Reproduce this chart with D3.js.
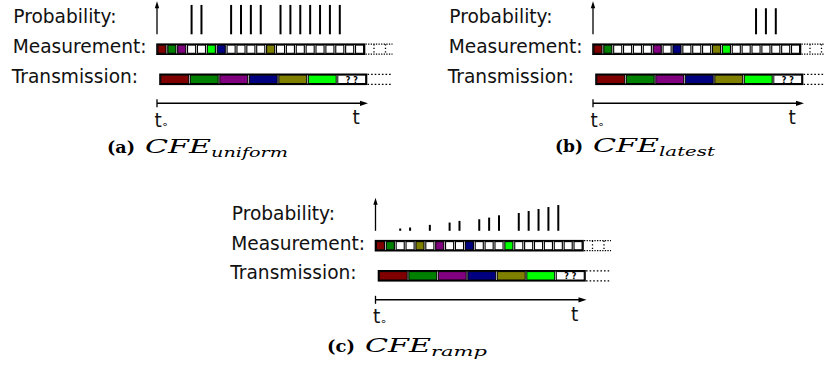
<!DOCTYPE html>
<html><head><meta charset="utf-8">
<script src="https://cdn.jsdelivr.net/npm/d3@7"></script>
<style>
body{margin:0;background:#fff;}
svg{display:block;}
</style></head>
<body>
<svg id="chart" width="824" height="370"></svg>
<script>
// ---------- data ----------
const panelIds = ["a", "b", "c"];
const captionSubs = ["uniform", "latest", "ramp"];
const rowLabels = ["Probability:", "Measurement:", "Transmission:"];
const cellCount = 21;

const measCellsA = [0, 1, 2, 5, 6, 11];
const measColorsA = ["#800000", "#008000", "#800080", "#00ff00", "#000080", "#808000"];
const measCellsB = [0, 1, 6, 8, 12, 13];
const measColorsB = ["#800000", "#008000", "#800080", "#000080", "#808000", "#00ff00"];
const measCellsC = [0, 1, 4, 6, 9, 13];
const measColorsC = ["#800000", "#008000", "#808000", "#800080", "#000080", "#00ff00"];

const probCellsA = [3, 4, 7, 8, 9, 10, 12, 13, 14, 15, 16, 17, 18];
const probValuesA = [0.89, 0.89, 0.89, 0.89, 0.89, 0.89, 0.89, 0.89, 0.89, 0.89, 0.89, 0.89, 0.89];
const probCellsB = [16, 17, 18];
const probValuesB = [0.79, 0.79, 0.79];
const probCellsC = [2, 3, 5, 7, 8, 10, 11, 12, 14, 15, 16, 17, 18];
const probValuesC = [0.07, 0.10, 0.18, 0.25, 0.30, 0.35, 0.40, 0.47, 0.54, 0.60, 0.66, 0.72, 0.78];

const transColors = ["#800000", "#008000", "#800080", "#000080", "#808000", "#00ff00", "#ffffff"];
const transLabels = ["", "", "", "", "", "", "? ?"];

const measCells = [measCellsA, measCellsB, measCellsC];
const measColors = [measColorsA, measColorsB, measColorsC];
const probCells = [probCellsA, probCellsB, probCellsC];
const probValues = [probValuesA, probValuesB, probValuesC];

// ---------- layout ----------
const svg = d3.select("#chart");
const offsets = [[0, 0], [436, 0], [218.5, 196.5]];
const captionX0 = [107, 119, 108.5];
const captionY = [153, 152, 155];
const subLen = [77, 56, 56];

const xCell = d3.scaleLinear().domain([0, cellCount]).range([157, 364.5]);
const xTrans = d3.scaleLinear().domain([0, transColors.length]).range([160, 366.5]);
const yProb = d3.scaleLinear().domain([0, 1]).range([34.3, 1.3]);

const measY = 44.2, measH = 10;
const transY = 74.3, transH = 10;
const timeY = 103.3;

const labelFont = "'DejaVu Sans', sans-serif";

panelIds.forEach((id, p) => {
  const g = svg.append("g").attr("transform", `translate(${offsets[p][0]},${offsets[p][1]})`);

  // row labels
  const lx = [13.3, 12.7, 11.7], ly = [23.3, 53.3, 82.5];
  g.selectAll("text.row").data(rowLabels).join("text")
    .attr("class", "row")
    .attr("x", (d, i) => lx[i]).attr("y", (d, i) => ly[i])
    .attr("font-family", labelFont).attr("font-size", 18.6)
    .attr("fill", "#111").text(d => d);

  // probability axis arrow
  g.append("line").attr("x1", xCell(0)).attr("x2", xCell(0))
    .attr("y1", yProb(0)).attr("y2", yProb(1) + 5)
    .attr("stroke", "#000").attr("stroke-width", 1.3);
  g.append("path")
    .attr("d", `M${xCell(0)},${yProb(1)} L${xCell(0) - 2.2},${yProb(1) + 7} L${xCell(0) + 2.2},${yProb(1) + 7} Z`)
    .attr("fill", "#000");

  // probability bars
  const pd = probCells[p].map((c, i) => ({c, v: probValues[p][i]}));
  g.selectAll("line.prob").data(pd).join("line")
    .attr("class", "prob")
    .attr("x1", d => xCell(d.c + 0.5)).attr("x2", d => xCell(d.c + 0.5))
    .attr("y1", yProb(0)).attr("y2", d => yProb(d.v))
    .attr("stroke", "#000").attr("stroke-width", 2);

  // measurement cells
  const colorOf = {};
  measCells[p].forEach((c, i) => colorOf[c] = measColors[p][i]);
  const cells = d3.range(cellCount);
  const cw = xCell(1) - xCell(0);
  g.selectAll("rect.cell").data(cells).join("rect")
    .attr("class", "cell")
    .attr("x", d => xCell(d) + 0.9).attr("y", measY + 0.9)
    .attr("width", cw - 1.8).attr("height", measH - 1.8)
    .attr("fill", d => colorOf[d] || "#fff")
    .attr("stroke", "#000").attr("stroke-width", 1.1);
  g.append("rect").attr("x", xCell(0)).attr("y", measY)
    .attr("width", xCell(cellCount) - xCell(0)).attr("height", measH)
    .attr("fill", "none").attr("stroke", "#000").attr("stroke-width", 1.6);

  // dotted continuation of measurement
  const ex0 = xCell(cellCount) + 1, ex1 = ex0 + 27;
  [measY, measY + measH].forEach(y => {
    g.append("line").attr("x1", ex0).attr("x2", ex1).attr("y1", y).attr("y2", y)
      .attr("stroke", "#000").attr("stroke-width", 1.3).attr("stroke-dasharray", "1.3,1.3");
  });
  [ex0 + 8.5, ex0 + 20].forEach(x => {
    g.append("line").attr("x1", x).attr("x2", x).attr("y1", measY).attr("y2", measY + measH)
      .attr("stroke", "#000").attr("stroke-width", 1.3).attr("stroke-dasharray", "1.3,2.2");
  });

  // transmission
  g.selectAll("rect.trans").data(transColors).join("rect")
    .attr("class", "trans")
    .attr("x", (d, i) => xTrans(i) + 0.8).attr("y", transY + 0.8)
    .attr("width", xTrans(1) - xTrans(0) - 1.6).attr("height", transH - 1.6)
    .attr("fill", d => d).attr("stroke", "#000").attr("stroke-width", 1);
  g.append("rect").attr("x", xTrans(0)).attr("y", transY)
    .attr("width", xTrans(transColors.length) - xTrans(0)).attr("height", transH)
    .attr("fill", "none").attr("stroke", "#000").attr("stroke-width", 1.6);
  g.selectAll("text.tl").data(transLabels).join("text")
    .attr("class", "tl")
    .attr("x", (d, i) => xTrans(i + 0.5)).attr("y", transY + transH - 1.8)
    .attr("text-anchor", "middle").attr("font-family", labelFont)
    .attr("font-weight", "bold").attr("font-size", 8).text(d => d);
  const tx0 = xTrans(transColors.length) + 1, tx1 = tx0 + 25;
  [transY, transY + transH].forEach(y => {
    g.append("line").attr("x1", tx0).attr("x2", tx1).attr("y1", y).attr("y2", y)
      .attr("stroke", "#000").attr("stroke-width", 1.3).attr("stroke-dasharray", "1.6,2");
  });

  // time axis
  const axX1 = 368;
  g.append("line").attr("x1", xCell(0)).attr("x2", axX1 - 6).attr("y1", timeY).attr("y2", timeY)
    .attr("stroke", "#000").attr("stroke-width", 1.6);
  g.append("line").attr("x1", xCell(0)).attr("x2", xCell(0)).attr("y1", timeY - 4).attr("y2", timeY + 4)
    .attr("stroke", "#000").attr("stroke-width", 1.3);
  g.append("path")
    .attr("d", `M${axX1},${timeY} L${axX1 - 8},${timeY - 2.6} L${axX1 - 8},${timeY + 2.6} Z`)
    .attr("fill", "#000");
  const t0 = g.append("text").attr("x", 154.5).attr("y", 126.5)
    .attr("font-family", labelFont).attr("font-size", 18.6).attr("fill", "#111");
  t0.append("tspan").text("t");
  t0.append("tspan").attr("font-size", 11).attr("dy", 1.5).attr("dx", -0.5).text("∘");
  g.append("text").attr("x", 352.5).attr("y", 124.3)
    .attr("font-family", labelFont).attr("font-size", 18.6).attr("fill", "#111").text("t");

  // caption
  const cap = g.append("text").attr("x", captionX0[p]).attr("y", captionY[p]).attr("fill", "#000");
  cap.append("tspan").attr("font-family", "'DejaVu Serif', serif").attr("font-weight", "bold")
    .attr("font-size", 17).attr("textLength", 28).attr("lengthAdjust", "spacingAndGlyphs").text(`(${id})`);
  cap.append("tspan").attr("font-family", "'DejaVu Serif', serif").attr("font-style", "italic")
    .attr("font-size", 18).attr("dx", 10).attr("textLength", 66).attr("lengthAdjust", "spacingAndGlyphs").text("CFE");
  cap.append("tspan").attr("font-family", "'DejaVu Serif', serif").attr("font-style", "italic")
    .attr("font-size", 13.5).attr("dy", 4).attr("textLength", subLen[p]).attr("lengthAdjust", "spacingAndGlyphs").text(captionSubs[p]);
});
</script>
</body></html>
